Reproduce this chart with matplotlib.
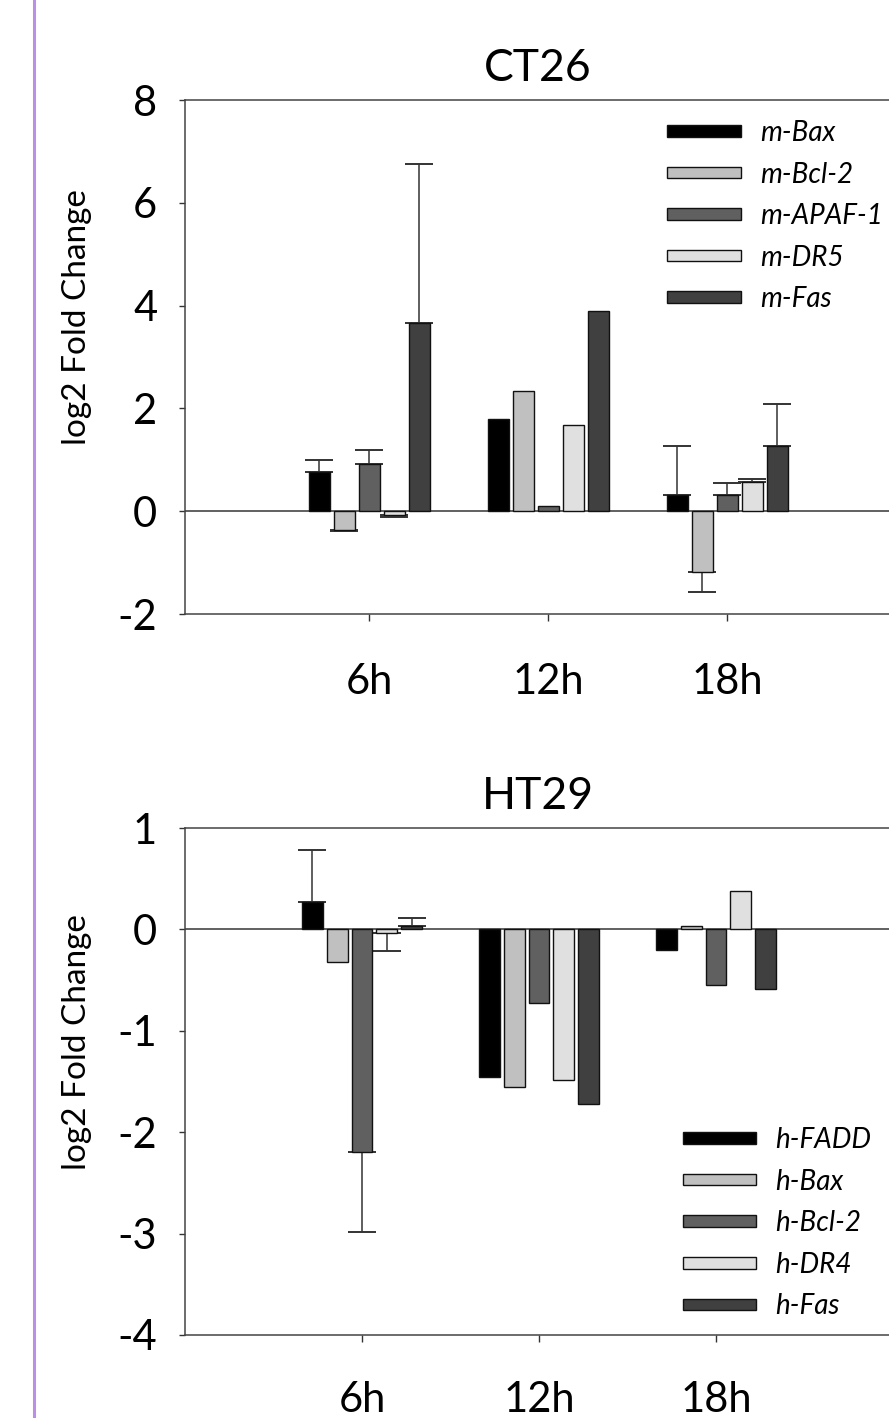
"""Two-panel grouped bar chart of apoptosis gene expression (CT26 / HT29)."""

import matplotlib

matplotlib.use("Agg")
import matplotlib.pyplot as plt
from matplotlib.lines import Line2D
import numpy as np

plt.rcParams["font.family"] = ["Lato", "DejaVu Sans"]

time_labels = ["6h", "12h", "18h"]

# CT26 (mouse) log2 fold change and one-sided SD
ct26_genes = ["m-Bax", "m-Bcl-2", "m-APAF-1", "m-DR5", "m-Fas"]
ct26_bax = [0.77, 1.80, 0.32]
ct26_bcl2 = [-0.36, 2.33, -1.19]
ct26_apaf1 = [0.92, 0.11, 0.32]
ct26_dr5 = [-0.08, 1.67, 0.56]
ct26_fas = [3.66, 3.89, 1.27]
ct26_bax_err = [0.22, np.nan, 0.95]
ct26_bcl2_err = [0.03, np.nan, 0.38]
ct26_apaf1_err = [0.27, np.nan, 0.23]
ct26_dr5_err = [0.03, np.nan, 0.07]
ct26_fas_err = [3.09, np.nan, 0.82]

# HT29 (human)
ht29_genes = ["h-FADD", "h-Bax", "h-Bcl-2", "h-DR4", "h-Fas"]
ht29_fadd = [0.27, -1.46, -0.20]
ht29_bax = [-0.32, -1.55, 0.03]
ht29_bcl2 = [-2.20, -0.73, -0.55]
ht29_dr4 = [-0.04, -1.49, 0.38]
ht29_fas = [0.03, -1.72, -0.59]
ht29_fadd_err = [0.51, np.nan, np.nan]
ht29_bax_err = [np.nan, np.nan, np.nan]
ht29_bcl2_err = [0.78, np.nan, np.nan]
ht29_dr4_err = [0.17, np.nan, np.nan]
ht29_fas_err = [0.085, np.nan, np.nan]

bar_colors = ["#000000", "#c0c0c0", "#606060", "#e0e0e0", "#404040"]

FIG_W, FIG_H = 889, 1418


def draw_panel(ax, title, genes, values, errors, ylim, yticks, xlim, xpad):
    x = np.arange(len(time_labels))
    pitch = 0.14
    width = 0.117
    n = len(genes)
    for i, (gene, vals, errs) in enumerate(zip(genes, values, errors)):
        pos = x + (i - (n - 1) / 2) * pitch
        vals = np.asarray(vals, dtype=float)
        errs = np.asarray(errs, dtype=float)
        ax.bar(pos, vals, width, color=bar_colors[i], edgecolor="#111111",
               linewidth=1.0, label=gene, zorder=3)
        lower = np.where(vals < 0, errs, 0.0)
        upper = np.where(vals >= 0, errs, 0.0)
        ok = ~np.isnan(errs)
        if ok.any():
            ax.errorbar(pos[ok], vals[ok], yerr=[lower[ok], upper[ok]], fmt="none",
                        ecolor="#333333", elinewidth=1.1, capsize=10,
                        capthick=1.4, zorder=2)
    ax.axhline(0, color="#606060", linewidth=1.4, zorder=1)
    ax.set_xlim(*xlim)
    ax.set_ylim(*ylim)
    ax.set_yticks(yticks)
    ax.set_yticklabels([str(t) for t in yticks])
    ax.set_xticks(x, time_labels)
    ax.tick_params(axis="y", length=4, width=1.0, pad=16, labelsize=30,
                   color="#333333")
    ax.tick_params(axis="x", length=5, width=1.0, pad=xpad, labelsize=30,
                   color="#333333")
    for side in ["left", "bottom", "top", "right"]:
        ax.spines[side].set_color("#444444")
        ax.spines[side].set_linewidth(1.1)
    ax.set_ylabel("log2 Fold Change", fontsize=24)
    ax.yaxis.set_label_coords(-0.132, 0.578)
    ax.set_title(title, fontsize=32, pad=14)


def add_legend(ax, anchor):
    ax.legend(loc="upper left", bbox_to_anchor=anchor, frameon=False,
              prop={"style": "italic", "size": 20}, handlelength=2.65,
              handleheight=0.26, handletextpad=0.68, labelspacing=0.56,
              borderpad=0, borderaxespad=0)


fig = plt.figure(figsize=(FIG_W / 100, FIG_H / 100), dpi=100)

left = 185 / FIG_W
width = 706 / FIG_W

ax_top = fig.add_axes([left, 1 - 614 / FIG_H, width, 514 / FIG_H])
draw_panel(ax_top, "CT26", ct26_genes,
           [ct26_bax, ct26_bcl2, ct26_apaf1, ct26_dr5, ct26_fas],
           [ct26_bax_err, ct26_bcl2_err, ct26_apaf1_err, ct26_dr5_err, ct26_fas_err],
           (-2, 8), [-2, 0, 2, 4, 6, 8], (-1.03, -1.03 + 706 / 179), 30)
add_legend(ax_top, (0.683, 0.961))

ax_bot = fig.add_axes([left, 1 - 1335 / FIG_H, width, 507 / FIG_H])
draw_panel(ax_bot, "HT29", ht29_genes,
           [ht29_fadd, ht29_bax, ht29_bcl2, ht29_dr4, ht29_fas],
           [ht29_fadd_err, ht29_bax_err, ht29_bcl2_err, ht29_dr4_err, ht29_fas_err],
           (-4, 1), [-4, -3, -2, -1, 0, 1], (-1.0, -1.0 + 706 / 177), 28)
add_legend(ax_bot, (0.705, 0.410))

# purple margin rule on the left
fig.add_artist(Line2D([34 / FIG_W, 34 / FIG_W], [0, 1], color="#bb8fe6",
                      linewidth=2.2, transform=fig.transFigure))

fig.savefig("out.png", dpi=100)
plt.close(fig)
